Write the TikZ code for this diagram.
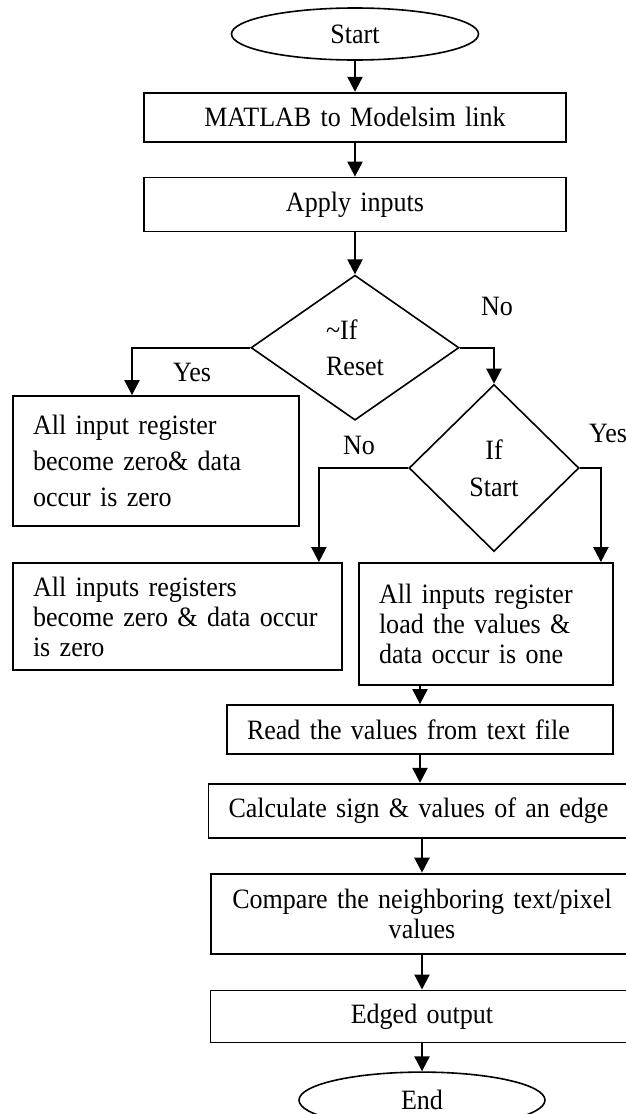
\documentclass[tikz,border=0pt]{standalone}
\usepackage{fontspec}
\setmainfont{Liberation Serif}[FakeStretch=0.93]
\usetikzlibrary{shapes.geometric, arrows.meta, positioning}
\newcommand{\flowfont}{\fontsize{28}{30}\selectfont}
\tikzset{
    terminal/.style={ellipse, draw, line width=1.6pt, minimum width=247pt, minimum height=52pt, inner sep=0pt, font=\flowfont},
    process/.style={rectangle, draw, line width=1.8pt, inner xsep=20pt, inner ysep=0pt, font=\flowfont},
    decision/.style={diamond, draw, line width=1.6pt, inner sep=0pt, font=\flowfont},
    lbl/.style={inner sep=0pt, font=\flowfont},
}

\begin{document}
\begin{tikzpicture}[
    x=1pt, y=1pt,
    ar/.style={-{Triangle[length=15pt, width=15pt]}, line width=2.2pt},
]
    \useasboundingbox (0,0) rectangle (626,-1114);
    % Top of the chart
    \node [terminal] (start) at (355,-34) {Start};
    \node [process, text width=382pt, minimum height=49pt, align=center, below=31pt of start] (link) {MATLAB to Modelsim link};
    \node [process, text width=382pt, minimum height=54pt, align=center, below=34pt of link] (apply) {Apply inputs};
    % Decisions
    \node [decision, minimum width=208pt, minimum height=145pt, align=left, below=42pt of apply] (reset) {\textasciitilde If\\[6pt]Reset};
    \node [decision, minimum width=170pt, minimum height=167pt, align=center] (startq) at (494,-468) {If\\[7pt]Start};
    % Register boxes
    \node [process, text width=246pt, minimum height=130pt, align=left] (resetbox) at (156,-461) {All input register\\[6pt]become zero\& data\\[6pt]occur is zero};
    \node [process, text width=289pt, minimum height=107pt, align=left] (zerobox) at (177.5,-616.5) {All inputs registers\\become zero \& data occur\\is zero};
    \node [process, text width=214pt, minimum height=122pt, align=left] (loadbox) at (486,-624) {All inputs register\\load the values \&\\data occur is one};
    % Edge detection steps
    \node [process, text width=346pt, minimum height=49pt, align=left] (read) at (420,-729.5) {Read the values from text file};
    \node [process, text width=383pt, minimum height=54pt, align=left, below=28pt of read] (calc) {Calculate sign \& values of an edge};
    \node [process, text width=382pt, minimum height=80pt, align=center, below=34pt of calc, xshift=2pt] (compare) {Compare the neighboring text/pixel\\values};
    \node [process, text width=383pt, minimum height=52pt, align=center, below=35pt of compare] (edged) {Edged output};
    \node [terminal, minimum width=246pt, minimum height=56pt, below=28pt of edged] (finish) {End};
    % Branch labels
    \node [lbl] (yesl) at (192,-372) {Yes};
    \node [lbl] (nor) at (497,-306) {No};
    \node [lbl] (nol) at (359,-445) {No};
    \node [lbl] (yesr) at (608,-433) {Yes};
    % Main flow
    \draw [ar] (start) -- (link);
    \draw [ar] (link) -- (apply);
    \draw [ar] (apply) -- (reset);
    \draw [ar] (reset.west) -| ([xshift=-24pt]resetbox.north);
    \draw [ar] (reset.east) -| (startq.north);
    \draw [ar] (startq.west) -| ([xshift=-24pt]zerobox.north east);
    \draw [ar] (startq.east) -| ([xshift=-13pt]loadbox.north east);
    \draw [ar] (loadbox.south -| read.north) -- (read.north);
    \draw [ar] (read.south -| calc.north) -- (calc.north);
    \draw [ar] (calc.south -| compare.north) -- (compare.north);
    \draw [ar] (compare.south -| edged.north) -- (edged.north);
    \draw [ar] (edged) -- (finish);
\end{tikzpicture}
\end{document}
